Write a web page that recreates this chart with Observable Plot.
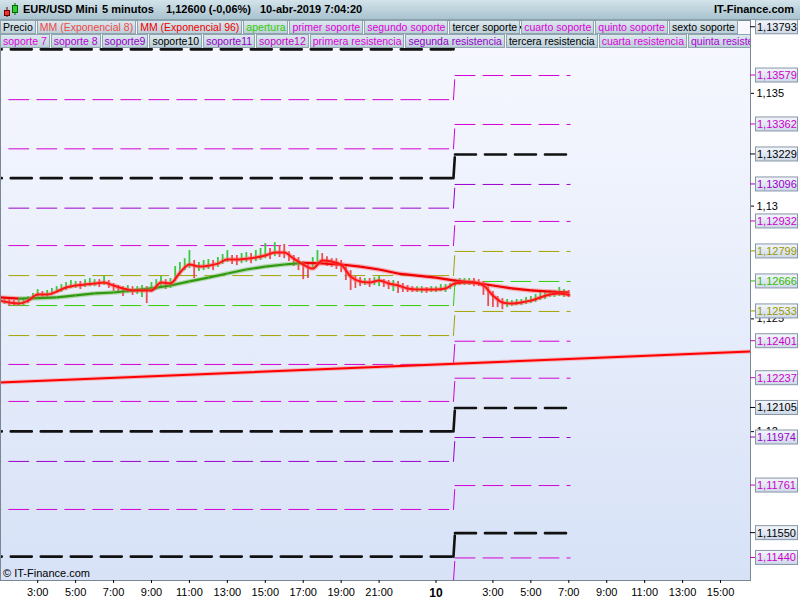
<!DOCTYPE html>
<html><head><meta charset="utf-8">
<script src="https://cdn.jsdelivr.net/npm/d3@7"></script>
<script src="https://cdn.jsdelivr.net/npm/@observablehq/plot@0.6"></script>
<style>
body{margin:0;background:#fff;}
#root{position:relative;width:800px;height:600px;overflow:hidden;background:#fff;font-family:Arial,"Liberation Sans",sans-serif;}
#titlebar{position:absolute;left:0;top:0;width:800px;height:20px;background:linear-gradient(#d3e3ea,#a9c3cf);border-bottom:1px solid #8aa2ae;box-sizing:border-box;}
#titlebar .t{position:absolute;top:3px;font-size:11px;font-weight:bold;color:#000;white-space:nowrap;}
#plotbg{position:absolute;left:0;top:20px;width:750px;height:560px;background:linear-gradient(#f8f9ff,#d7e2f7);}
#chart{position:absolute;left:0;top:20px;}
#legend{position:absolute;left:0;top:20px;width:750px;overflow:hidden;}
.row{display:flex;white-space:nowrap;height:14px;}
.row span{display:block;flex:none;font-size:10.5px;line-height:12px;height:12px;padding:0 2px;margin-right:1px;border:1px solid #8fa4ae;background:linear-gradient(#dce8ee,#bcd0d9);}
#copy{position:absolute;left:3px;top:567px;font-size:11px;color:#000;}
</style></head><body>
<div id="root">
  <div id="titlebar">
    <svg style="position:absolute;left:3px;top:2px" width="16" height="16">
      <line x1="4" y1="5" x2="4" y2="15" stroke="#600"/><rect x="1.5" y="8.5" width="5" height="5" fill="#e33" stroke="#600"/>
      <line x1="12" y1="1" x2="12" y2="13" stroke="#060"/><rect x="9.5" y="3.5" width="5" height="7" fill="#3c3" stroke="#060"/>
    </svg>
    <div class="t" style="left:23px">EUR/USD Mini</div>
    <div class="t" style="left:102px">5 minutos</div>
    <div class="t" style="left:166px">1,12600 (-0,06%)</div>
    <div class="t" style="left:260px">10-abr-2019 7:04:20</div>
    <div class="t" style="right:6px">IT-Finance.com</div>
  </div>
  <div id="plotbg"></div>
  <div id="chart"></div>
  <div id="legend"></div>
  <div id="copy">© IT-Finance.com</div>
</div>
<script>
// ---------- data ----------
const dayStartUTC = Date.UTC(2019, 3, 9);      // 9-abr-2019 00:00
const xDomainHours = [1.04, 40.58];            // visible time window (hours from 9-abr 00:00)
const yDomain = [1.11340, 1.13823];

// 15-minute price bars starting at 01:15 on 9-abr
const barStartHour = 1.25, barStepHours = 0.25;
const barClose = [
 1.12577,1.12573,1.12568,1.12568,1.12573,1.12586,1.12599,1.12608,1.12604,1.12613,1.12621,1.12626,
 1.12635,1.12643,1.12648,1.12652,1.12648,1.12657,1.12657,1.12661,1.12657,1.12666,1.12652,1.12639,
 1.12630,1.12626,1.12630,1.12621,1.12626,1.12630,1.12621,1.12635,1.12652,1.12666,1.12652,1.12657,
 1.12688,1.12723,1.12736,1.12745,1.12728,1.12732,1.12736,1.12741,1.12736,1.12750,1.12759,1.12767,
 1.12763,1.12759,1.12767,1.12772,1.12767,1.12776,1.12781,1.12790,1.12785,1.12798,1.12794,1.12790,
 1.12776,1.12759,1.12741,1.12732,1.12723,1.12745,1.12767,1.12763,1.12754,1.12750,1.12745,1.12736,
 1.12705,1.12679,1.12666,1.12661,1.12666,1.12661,1.12666,1.12670,1.12657,1.12652,1.12652,1.12648,
 1.12639,1.12635,1.12630,1.12630,1.12630,1.12626,1.12630,1.12630,1.12635,1.12635,1.12643,1.12657,
 1.12661,1.12661,1.12666,1.12661,1.12657,1.12643,1.12613,1.12595,1.12577,1.12568,1.12568,1.12568,
 1.12573,1.12573,1.12577,1.12581,1.12590,1.12599,1.12604,1.12608,1.12608,1.12613,1.12613,1.12600];
const barHigh = [
 1.12590,1.12586,1.12581,1.12581,1.12586,1.12599,1.12613,1.12630,1.12621,1.12626,1.12635,1.12643,
 1.12652,1.12661,1.12670,1.12666,1.12666,1.12674,1.12679,1.12674,1.12674,1.12688,1.12670,1.12657,
 1.12648,1.12643,1.12648,1.12643,1.12643,1.12648,1.12643,1.12661,1.12674,1.12688,1.12674,1.12679,
 1.12732,1.12750,1.12767,1.12803,1.12759,1.12750,1.12759,1.12763,1.12759,1.12772,1.12785,1.12803,
 1.12781,1.12781,1.12790,1.12794,1.12790,1.12803,1.12812,1.12834,1.12812,1.12838,1.12825,1.12830,
 1.12798,1.12781,1.12772,1.12754,1.12745,1.12772,1.12803,1.12790,1.12776,1.12767,1.12767,1.12759,
 1.12736,1.12714,1.12688,1.12683,1.12679,1.12679,1.12683,1.12688,1.12674,1.12670,1.12670,1.12666,
 1.12657,1.12648,1.12643,1.12643,1.12643,1.12639,1.12643,1.12643,1.12652,1.12652,1.12657,1.12674,
 1.12679,1.12679,1.12679,1.12679,1.12674,1.12666,1.12643,1.12621,1.12599,1.12590,1.12586,1.12581,
 1.12586,1.12586,1.12595,1.12599,1.12608,1.12617,1.12617,1.12626,1.12626,1.12639,1.12630,1.12626];
const barLow = [
 1.12564,1.12555,1.12559,1.12555,1.12559,1.12568,1.12586,1.12595,1.12590,1.12595,1.12604,1.12613,
 1.12617,1.12626,1.12635,1.12635,1.12630,1.12639,1.12643,1.12643,1.12639,1.12648,1.12635,1.12621,
 1.12613,1.12599,1.12613,1.12604,1.12608,1.12595,1.12568,1.12617,1.12626,1.12643,1.12630,1.12635,
 1.12666,1.12692,1.12714,1.12723,1.12679,1.12710,1.12714,1.12719,1.12714,1.12728,1.12741,1.12750,
 1.12741,1.12736,1.12745,1.12750,1.12745,1.12754,1.12759,1.12767,1.12763,1.12776,1.12772,1.12767,
 1.12754,1.12732,1.12714,1.12674,1.12679,1.12723,1.12745,1.12741,1.12732,1.12728,1.12719,1.12705,
 1.12670,1.12626,1.12635,1.12643,1.12648,1.12639,1.12648,1.12643,1.12639,1.12630,1.12621,1.12613,
 1.12617,1.12617,1.12617,1.12617,1.12613,1.12613,1.12617,1.12617,1.12621,1.12617,1.12630,1.12643,
 1.12648,1.12648,1.12648,1.12643,1.12643,1.12604,1.12555,1.12550,1.12550,1.12541,1.12550,1.12555,
 1.12559,1.12559,1.12564,1.12568,1.12573,1.12581,1.12586,1.12595,1.12595,1.12599,1.12595,1.12595];

// MM (Exponencial 8), half-hourly readings from 01:00 on 9-abr
const ema8StartHour = 1, ema8StepHours = 0.5;
const ema8 = [
 1.12581,1.12573,1.12568,1.12581,1.12608,1.12608,1.12621,1.12639,1.12648,1.12652,
 1.12657,1.12661,1.12648,1.12635,1.12626,1.12626,1.12626,1.12661,1.12657,1.12705,
 1.12741,1.12732,1.12736,1.12745,1.12763,1.12763,1.12767,1.12772,1.12781,1.12794,
 1.12794,1.12767,1.12741,1.12723,1.12759,1.12754,1.12741,1.12688,1.12666,1.12661,
 1.12670,1.12657,1.12648,1.12635,1.12630,1.12630,1.12630,1.12635,1.12657,1.12661,
 1.12661,1.12648,1.12604,1.12573,1.12568,1.12573,1.12581,1.12595,1.12608,1.12613,1.12606];

// MM (Exponencial 96), hourly readings from 01:00 on 9-abr
const ema96StartHour = 1, ema96StepHours = 1;
const ema96 = [
 1.12595,1.12590,1.12592,1.12595,1.12604,1.12613,1.12617,1.12626,1.12635,1.12648,
 1.12666,1.12683,1.12701,1.12719,1.12732,1.12741,1.12748,1.12746,1.12741,1.12732,
 1.12719,1.12701,1.12692,1.12683,1.12670,1.12661,1.12648,1.12635,1.12626,1.12621,1.12617];

// trend line (red)
const trendHours = [0, 41];
const trendPrices = [1.12214, 1.12357];

// support / resistance levels, top to bottom
const levelRoles = ["black","magenta","magenta","black","purple","magenta","olive","green",
                    "olive","magenta","magenta","black","purple","magenta","black","magenta"];
const levelsDay9  = [1.13695,1.13472,1.13254,1.13124,1.12991,1.12825,1.12692,1.12559,
                     1.12426,1.12298,1.12134,1.12001,1.11868,1.11655,1.11446,1.11336];
const levelsDay10 = [1.13793,1.13579,1.13362,1.13229,1.13096,1.12932,1.12799,1.12666,
                     1.12533,1.12401,1.12237,1.12105,1.11974,1.11761,1.11550,1.11440];
const day9Hours  = [0, 24.92];
const day10Hours = [25.0, 31.07];

// axis ticks
const yTicks = [1.12, 1.125, 1.13, 1.135];
const xTickHours = [3,5,7,9,11,13,15,17,19,21, 27,29,31,33,35,37,39];
const dayTickHour = 24, dayTickLabel = "10";

// legend
const legendRow1 = [["Precio","#000"],["MM (Exponencial 8)","#f04848"],["MM (Exponencial 96)","#ee0000"],
  ["apertura","#33cc00"],["primer soporte","#dd00dd"],["segundo soporte","#dd00dd"],["tercer soporte","#000"],
  ["cuarto soporte","#dd00dd"],["quinto soporte","#dd00dd"],["sexto soporte","#000"]];
const legendRow2 = [["soporte 7","#dd00dd"],["soporte 8","#b000d8"],["soporte9","#9900cc"],["soporte10","#000"],
  ["soporte11","#9900cc"],["soporte12","#cc00cc"],["primera resistencia","#dd00dd"],["segunda resistencia","#9900cc"],
  ["tercera resistencia","#000"],["cuarta resistencia","#dd00dd"],["quinta resistencia","#b000d8"]];

// ---------- styles ----------
const roleColor = {black:"#111", magenta:"#d400d4", purple:"#9a00cc", olive:"#a3a300", green:"#33cc00"};
const roleText  = {black:"#000", magenta:"#cc00cc", purple:"#9900cc", olive:"#999900", green:"#33bb00"};

// ---------- build ----------
const at = h => new Date(dayStartUTC + h * 3600e3);

const bars = barClose.map((c, i) => ({
  t: at(barStartHour + i * barStepHours), hi: barHigh[i], lo: barLow[i],
  up: i === 0 ? true : c >= barClose[i - 1]
}));
const ema8Data = ema8.map((p, i) => ({t: at(ema8StartHour + i * ema8StepHours), p}));
const ema96Seg = ema96.slice(1).map((p, i) => ({
  t1: at(ema96StartHour + i * ema96StepHours), p1: ema96[i],
  t2: at(ema96StartHour + (i + 1) * ema96StepHours), p2: p,
  rising: p > ema96[i]
}));
const trend = trendHours.map((h, i) => ({t: at(h), p: trendPrices[i]}));

const levelPts = [];
levelRoles.forEach((role, i) => {
  const a = levelsDay9[i], b = levelsDay10[i];
  const push = (key, h, p) => levelPts.push({key: key + i, role, color: roleColor[role], t: at(h), p});
  push("a", day9Hours[0], a);  push("a", day9Hours[1], a);
  push("c", day9Hours[1], a);  push("c", day10Hours[0], b);
  push("b", day10Hours[0], b); push("b", day10Hours[1], b);
});
const thinLevels = levelPts.filter(d => d.role !== "black");
const blackLevels = levelPts.filter(d => d.role === "black");

const fmtTick = d => String(+d.toFixed(3)).replace(".", ",");
const fmt5 = v => v.toFixed(5).replace(".", ",");

const plot = Plot.plot({
  width: 800, height: 580,
  marginTop: 0, marginBottom: 20, marginLeft: 0, marginRight: 50,
  style: {background: "transparent", overflow: "visible", fontFamily: "Arial, 'Liberation Sans', sans-serif", fontSize: "11px", color: "#000"},
  x: {type: "utc", domain: xDomainHours.map(at)},
  y: {domain: yDomain},
  color: {type: "identity"},
  marks: [
    Plot.line(thinLevels, {x: "t", y: "p", z: "key", stroke: "color", strokeWidth: 1, strokeDasharray: "20,8", clip: true}),
    Plot.line(blackLevels, {x: "t", y: "p", z: "key", stroke: "#111", strokeWidth: 2.6, strokeDasharray: "21,9", clip: true}),
    Plot.line(trend, {x: "t", y: "p", stroke: "#ff7070", strokeWidth: 4, strokeOpacity: 0.45, clip: true}),
    Plot.line(trend, {x: "t", y: "p", stroke: "#ff0000", strokeWidth: 2, clip: true}),
    Plot.ruleX(bars, {x: "t", y1: "lo", y2: "hi", stroke: d => d.up ? "#3cc83c" : "#e85050", strokeWidth: 1.8}),
    Plot.link(ema96Seg, {x1: "t1", y1: "p1", x2: "t2", y2: "p2", stroke: d => d.rising ? "#7fc060" : "#ff7070", strokeWidth: 4.5, strokeOpacity: 0.5, clip: true}),
    Plot.link(ema96Seg, {x1: "t1", y1: "p1", x2: "t2", y2: "p2", stroke: d => d.rising ? "#2f9a10" : "#ee0000", strokeWidth: 2.2, clip: true}),
    Plot.line(ema8Data, {x: "t", y: "p", stroke: "#ff6060", strokeWidth: 4.5, strokeOpacity: 0.45, curve: "monotone-x", clip: true}),
    Plot.line(ema8Data, {x: "t", y: "p", stroke: "#ff1414", strokeWidth: 2, curve: "monotone-x", clip: true}),
    Plot.frame({stroke: "#7b8894"}),
    Plot.axisX({ticks: xTickHours.map(at), tickFormat: d => d.getUTCHours() + ":00", tickSize: 3, tickPadding: 5, fontSize: 11, label: null}),
    Plot.axisX({ticks: [at(dayTickHour)], tickFormat: () => dayTickLabel, tickSize: 3, tickPadding: 5, fontSize: 12, fontWeight: "bold", label: null}),
    Plot.axisY({anchor: "right", ticks: yTicks, tickFormat: fmtTick, tickSize: 3, tickPadding: 3, fontSize: 11, label: null})
  ]
});
document.getElementById("chart").appendChild(plot);

// price label boxes for the current day's levels, positioned with the plot's y scale
const ys = plot.scale("y");
const svg = d3.select(plot);
const defs = svg.append("defs");
const grad = defs.append("linearGradient").attr("id", "boxgrad").attr("x1", 0).attr("x2", 0).attr("y1", 0).attr("y2", 1);
grad.append("stop").attr("offset", "0%").attr("stop-color", "#f4f7fc");
grad.append("stop").attr("offset", "100%").attr("stop-color", "#cdd8e8");
const gl = svg.append("g").attr("text-anchor", "start");
levelsDay10.forEach((v, i) => {
  const y = ys.apply(v), role = levelRoles[i];
  gl.append("line").attr("x1", 750).attr("x2", 755).attr("y1", y).attr("y2", y).attr("stroke", roleText[role]);
  gl.append("rect").attr("x", 755.5).attr("y", y - 7).attr("width", 42).attr("height", 14)
    .attr("fill", "url(#boxgrad)").attr("stroke", "#8796a8");
  gl.append("text").attr("x", 757).attr("y", y + 4).attr("font-size", 11).attr("text-anchor", "start")
    .attr("fill", roleText[role]).text(fmt5(v));
});

// legend rows
const leg = document.getElementById("legend");
[legendRow1, legendRow2].forEach(row => {
  const div = document.createElement("div");
  div.className = "row";
  row.forEach(([label, color]) => {
    const s = document.createElement("span");
    s.textContent = label; s.style.color = color;
    div.appendChild(s);
  });
  leg.appendChild(div);
});
</script>
</body></html>
